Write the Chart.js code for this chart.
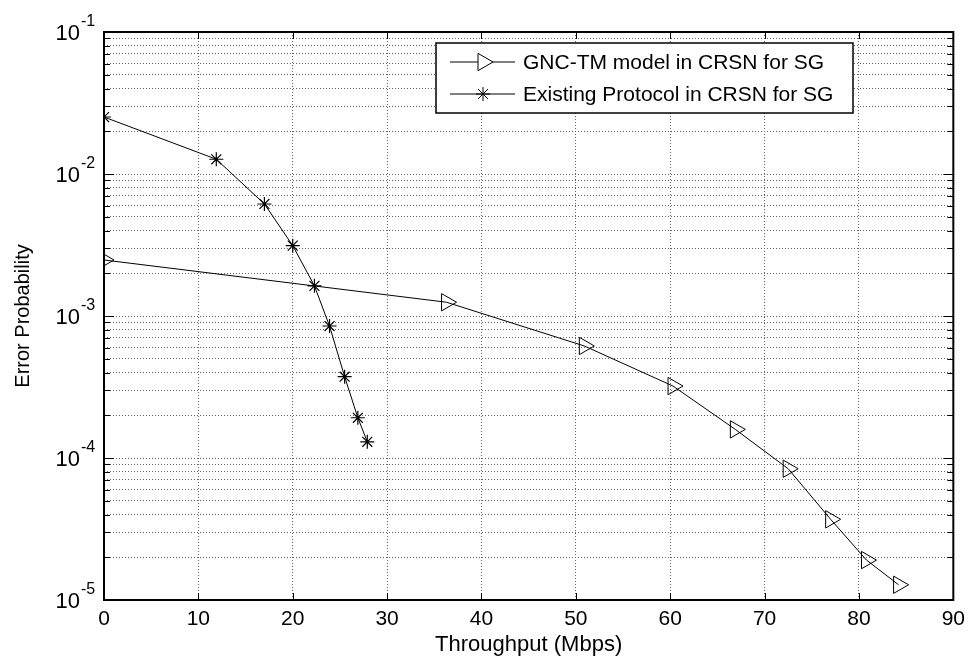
<!DOCTYPE html>
<html>
<head>
<meta charset="utf-8">
<script src="https://cdn.jsdelivr.net/npm/chart.js@4/dist/chart.umd.min.js"></script>
<style>
  html, body { margin: 0; padding: 0; background: #fff; }
  #wrap { width: 972px; height: 658px; }
</style>
</head>
<body>
<div id="wrap"><canvas id="errChart" width="972" height="658"></canvas></div>
<script>
// data
const gncX = [0, 36.3, 50.9, 60.3, 66.9, 72.5, 77.0, 80.8, 84.2];
const gncY = [0.00248, 0.00125, 0.000615, 0.000321, 0.000159, 0.000084, 0.000037, 0.0000191, 0.0000128];
const existX = [0, 11.9, 17.0, 20.0, 22.3, 23.9, 25.5, 26.9, 27.9];
const existY = [0.0252, 0.0127, 0.00615, 0.00313, 0.00163, 0.00085, 0.000374, 0.000192, 0.00013];
const seriesNames = ['GNC-TM model in CRSN for SG', 'Existing Protocol in CRSN for SG'];
const xTicks = [0, 10, 20, 30, 40, 50, 60, 70, 80, 90];
const yExps = [-5, -4, -3, -2, -1];

const FONT = 'Arial, "Liberation Sans", sans-serif';

function toPts(xs, ys) {
    return xs.map((x, i) => ({ x: x, y: ys[i] }));
}

// log ticks 1..9 x 10^k
let yTickVals = [];
yExps.forEach(function (e, i) {
    if (i == yExps.length - 1) { yTickVals.push(Math.pow(10, e)); return; }
    for (let m = 1; m <= 9; m++) yTickVals.push(m * Math.pow(10, e));
});

function isPow10(v) {
    const l = Math.log10(v);
    return Math.abs(l - Math.round(l)) < 1e-6;
}

// box, inward ticks, y labels with superscript, legend
const decoPlugin = {
    id: 'deco',
    afterDraw(chart) {
        const ctx = chart.ctx;
        const a = chart.chartArea;
        const xs = chart.scales.x, ys = chart.scales.y;
        ctx.save();
        ctx.strokeStyle = '#000';
        ctx.lineWidth = 1;
        ctx.setLineDash([]);
        ctx.beginPath();
        ys.ticks.forEach(function (t) {
            const py = Math.round(ys.getPixelForValue(t.value)) + 0.5;
            const len = isPow10(t.value) ? 10 : 6;
            ctx.moveTo(a.left, py); ctx.lineTo(a.left + len, py);
            ctx.moveTo(a.right, py); ctx.lineTo(a.right - len, py);
        });
        xs.ticks.forEach(function (t) {
            const px = Math.round(xs.getPixelForValue(t.value)) + 0.5;
            ctx.moveTo(px, a.top); ctx.lineTo(px, a.top + 7);
            ctx.moveTo(px, a.bottom); ctx.lineTo(px, a.bottom - 7);
        });
        ctx.stroke();
        ctx.lineWidth = 2;
        ctx.strokeRect(a.left, a.top, a.right - a.left, a.bottom - a.top);

        // y labels 10^k
        ctx.fillStyle = '#000';
        yExps.forEach(function (e) {
            const py = ys.getPixelForValue(Math.pow(10, e));
            ctx.font = '22px ' + FONT;
            ctx.textAlign = 'right';
            ctx.textBaseline = 'middle';
            ctx.fillText('10', 80, py + 2);
            ctx.font = '16px ' + FONT;
            ctx.textAlign = 'left';
            ctx.fillText(String(e), 81, py - 10);
        });

        // legend
        const lx = 436, ly = 43, lw = 417, lh = 70;
        ctx.fillStyle = '#fff';
        ctx.fillRect(lx, ly, lw, lh);
        ctx.lineWidth = 1.5;
        ctx.strokeRect(lx, ly, lw, lh);
        chart.data.datasets.forEach(function (ds, i) {
            const rowY = ly + 19 + i * 32;
            ctx.strokeStyle = '#000';
            ctx.lineWidth = 1;
            ctx.beginPath();
            ctx.moveTo(450, rowY); ctx.lineTo(515, rowY);
            ctx.stroke();
            Chart.helpers.drawPoint(ctx, {
                pointStyle: ds.pointStyle,
                rotation: ds.pointRotation,
                radius: ds.pointRadius,
                borderWidth: 1
            }, 483, rowY);
            ctx.fillStyle = '#000';
            ctx.font = '21px ' + FONT;
            ctx.textAlign = 'left';
            ctx.textBaseline = 'middle';
            ctx.fillText(ds.label, 523, rowY + 1);
        });
        ctx.restore();
    }
};

new Chart(document.getElementById('errChart'), {
    type: 'line',
    data: {
        datasets: [{
            label: seriesNames[0],
            data: toPts(gncX, gncY),
            borderColor: '#000',
            borderWidth: 1,
            pointStyle: 'triangle',
            pointRotation: 90,
            pointRadius: 10,
            pointBorderColor: '#000',
            pointBackgroundColor: 'rgba(0,0,0,0)',
            pointBorderWidth: 1,
            tension: 0
        }, {
            label: seriesNames[1],
            data: toPts(existX, existY),
            borderColor: '#000',
            borderWidth: 1,
            pointStyle: 'star',
            pointRotation: 0,
            pointRadius: 7,
            pointBorderColor: '#000',
            pointBackgroundColor: 'rgba(0,0,0,0)',
            pointBorderWidth: 1.2,
            tension: 0
        }]
    },
    options: {
        responsive: false,
        animation: false,
        layout: { padding: { left: 0, right: 17, top: 32, bottom: 0 } },
        plugins: {
            legend: { display: false },
            tooltip: { enabled: false }
        },
        scales: {
            x: {
                type: 'linear',
                min: 0,
                max: 90,
                afterBuildTicks: function (s) { s.ticks = xTicks.map(v => ({ value: v })); },
                afterFit: function (s) { s.height = 58; },
                ticks: {
                    color: '#000',
                    font: { size: 21, family: FONT },
                    padding: 7,
                    maxRotation: 0
                },
                grid: { color: '#666', drawTicks: false, lineWidth: 1 },
                border: { display: false, dash: [1, 2] },
                title: {
                    display: true,
                    text: 'Throughput (Mbps)',
                    color: '#000',
                    font: { size: 22, family: FONT },
                    padding: { top: 0, bottom: 0 }
                }
            },
            y: {
                type: 'logarithmic',
                min: 1e-5,
                max: 1e-1,
                afterBuildTicks: function (s) { s.ticks = yTickVals.map(v => ({ value: v })); },
                afterFit: function (s) { s.width = 104; },
                ticks: { display: false, autoSkip: false },
                grid: { color: '#666', drawTicks: false, lineWidth: 1 },
                border: { display: false, dash: [1, 2] },
                title: {
                    display: true,
                    text: 'Error Probability',
                    color: '#000',
                    font: { size: 20, family: FONT },
                    padding: { top: 11, bottom: 0 }
                }
            }
        }
    },
    plugins: [decoPlugin]
});
</script>
</body>
</html>
